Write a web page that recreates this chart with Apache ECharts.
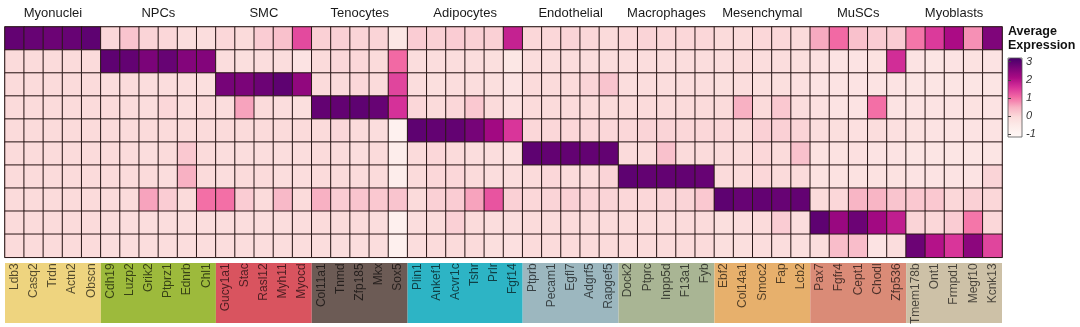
<!DOCTYPE html>
<html><head><meta charset="utf-8">
<script src="https://cdn.jsdelivr.net/npm/echarts@6/dist/echarts.min.js"></script>
<style>html,body{margin:0;padding:0;background:#fff}#c{width:1080px;height:327px}</style>
</head><body><div id="c"></div>
<script>
const groupNames = ['Myonuclei','NPCs','SMC','Tenocytes','Adipocytes','Endothelial','Macrophages','Mesenchymal','MuSCs','Myoblasts'];
const groupColors = ['#EED47F','#9DBA3C','#D9545F','#6C5B55','#2DB4C5','#9CB7BF','#A9B594','#E7B06C','#DA8B77','#CDC1A7'];
const groupGenes = [
  ['Ldb3','Casq2','Trdn','Actn2','Obscn'],
  ['Cdh19','Luzp2','Grik2','Ptprz1','Ednrb','Chl1'],
  ['Gucy1a1','Stac','Rasl12','Myh11','Myocd'],
  ['Col11a1','Tnmd','Zfp185','Mkx','Sox5'],
  ['Plin1','Ankef1','Acvr1c','Tshr','Prlr','Fgf14'],
  ['Ptprb','Pecam1','Egfl7','Adgrf5','Rapgef5'],
  ['Dock2','Ptprc','Inpp5d','F13a1','Fyb'],
  ['Ebf2','Col14a1','Smoc2','Fap','Lcb2'],
  ['Pax7','Fgfr4','Cept1','Chodl','Zfp536'],
  ['Tmem178b','Ont1','Frmpd1','Megf10','Kcnk13']
];
const legendTicks = [-1, 0, 1, 2, 3];
// rows = cell types (groupNames order), columns = genes in order
const exprMyonuclei = [2.9,2.85,2.8,2.85,2.95, 0.0,0.25,0.05,0.0,-0.1,-0.1, 0.0,-0.05,0.15,0.3,1.35, 0.1,0.1,0.05,0.05,-0.4, 0.15,0.1,0.15,0.1,0.1,1.8, 0.0,0.0,0.05,0.0,-0.05, 0.0,0.05,0.0,0.0,0.0, -0.05,-0.05,0.0,0.0,-0.05, 0.55,1.05,0.3,0.15,0.15, 0.95,1.5,2.1,0.75,2.6];
const exprNPCs = [-0.05,-0.05,-0.05,-0.05,-0.05, 2.95,2.9,2.65,2.85,2.55,2.55, -0.1,-0.15,-0.1,-0.1,-0.3, -0.05,0.0,0.0,-0.05,1.05, -0.1,-0.1,-0.1,-0.1,-0.15,-0.4, -0.1,-0.1,-0.1,-0.1,-0.1, -0.1,-0.1,-0.1,-0.1,-0.1, -0.1,-0.05,-0.1,-0.1,-0.15, -0.2,-0.3,-0.3,-0.25,1.65, -0.3,-0.35,-0.3,-0.25,-0.3];
const exprSMC = [-0.05,-0.05,-0.05,-0.05,-0.05, -0.1,-0.05,-0.1,-0.1,-0.1,-0.15, 2.7,2.65,2.8,2.95,2.4, -0.05,-0.05,0.0,-0.05,1.4, -0.1,-0.15,-0.1,-0.1,-0.15,-0.3, -0.05,-0.05,-0.05,0.05,0.25, -0.1,-0.1,-0.1,-0.1,-0.1, -0.15,-0.1,-0.15,-0.15,-0.2, -0.3,-0.3,-0.3,-0.3,-0.3, -0.35,-0.35,-0.35,-0.35,-0.35];
const exprTenocytes = [-0.05,-0.05,-0.05,-0.05,-0.05, -0.05,-0.05,-0.1,0.0,-0.1,-0.05, -0.1,0.6,-0.05,-0.1,-0.15, 2.9,2.9,2.95,2.85,1.6, 0.0,-0.05,0.0,0.2,-0.05,-0.2, -0.05,-0.05,-0.05,-0.05,-0.05, -0.05,-0.05,-0.05,-0.05,-0.05, -0.05,0.5,-0.05,0.2,-0.1, -0.2,-0.3,-0.3,1.0,-0.3, -0.3,-0.3,-0.3,-0.25,-0.3];
const exprAdipocytes = [-0.05,-0.05,-0.05,-0.05,-0.05, -0.05,-0.05,-0.05,-0.05,-0.05,-0.05, -0.05,-0.05,-0.05,-0.05,-0.05, -0.05,0.0,-0.05,-0.1,-0.8, 2.95,2.9,2.9,2.7,2.2,1.55, 0.0,0.0,0.0,0.0,0.0, 0.0,0.05,0.05,0.0,0.0, 0.0,-0.05,0.1,0.1,0.05, -0.1,-0.15,-0.2,-0.1,-0.2, -0.25,-0.3,-0.3,-0.3,-0.3];
const exprEndothelial = [-0.05,-0.05,-0.05,-0.05,-0.05, -0.05,-0.05,-0.1,-0.05,0.2,-0.05, -0.1,-0.1,-0.1,-0.1,-0.1, -0.05,-0.05,-0.1,-0.05,-0.6, -0.05,0.0,-0.05,-0.1,-0.1,-0.2, 2.95,2.9,2.9,2.9,2.9, -0.05,-0.05,0.3,-0.05,-0.05, -0.05,-0.05,0.0,-0.05,0.3, -0.25,-0.25,-0.2,-0.3,-0.3, -0.35,-0.35,-0.35,-0.35,-0.35];
const exprMacrophages = [-0.05,-0.05,-0.05,-0.05,-0.05, -0.05,-0.05,-0.05,-0.1,0.5,-0.05, -0.1,-0.05,-0.05,-0.1,-0.1, -0.05,-0.05,-0.05,-0.05,-0.6, -0.05,0.0,0.0,-0.05,-0.1,-0.1, -0.05,0.0,-0.05,-0.05,0.05, 2.95,2.9,2.9,2.9,2.85, -0.05,-0.05,0.0,-0.05,-0.05, -0.25,-0.25,-0.25,-0.25,-0.25, -0.3,-0.3,-0.3,-0.3,0.05];
const exprMesenchymal = [-0.05,-0.05,-0.05,-0.05,-0.05, -0.05,-0.05,0.6,0.15,-0.05,1.0, 1.0,0.15,-0.05,0.4,-0.05, 0.5,0.15,0.25,0.2,0.25, -0.05,0.1,0.15,0.6,1.25,0.1, 0.0,0.05,0.1,0.05,0.05, 0.0,0.0,0.05,0.05,0.2, 2.95,2.85,2.9,2.85,2.9, -0.05,0.0,0.45,0.45,0.25, 0.2,0.2,0.0,0.1,0.0];
const exprMuSCs = [-0.05,-0.05,-0.05,-0.05,-0.05, -0.1,-0.1,-0.1,-0.1,-0.1,-0.1, -0.1,-0.1,-0.1,-0.1,-0.1, -0.05,-0.05,-0.05,-0.1,-0.75, -0.1,-0.05,0.1,-0.05,-0.1,-0.1, -0.05,-0.05,-0.05,-0.05,-0.05, -0.05,-0.05,-0.05,-0.05,-0.05, -0.15,-0.1,-0.05,0.15,-0.1, 2.95,2.3,2.8,2.2,1.85, 0.05,0.0,0.15,0.95,0.0];
const exprMyoblasts = [-0.05,-0.05,-0.05,-0.05,-0.05, -0.1,-0.1,-0.1,-0.1,-0.1,-0.1, -0.1,-0.1,-0.1,-0.1,-0.1, -0.1,-0.1,-0.1,-0.1,-0.75, -0.1,-0.05,-0.05,-0.05,-0.15,-0.2, -0.05,-0.05,-0.05,-0.05,-0.05, -0.05,-0.05,-0.05,-0.05,-0.05, -0.15,-0.15,-0.1,-0.1,-0.15, -0.1,0.35,0.35,-0.3,-0.1, 2.8,2.0,1.55,2.45,1.4];
const exprRows = [exprMyonuclei, exprNPCs, exprSMC, exprTenocytes, exprAdipocytes, exprEndothelial, exprMacrophages, exprMesenchymal, exprMuSCs, exprMyoblasts];

// derived
const genes = [].concat(...groupGenes);
const groupSpans = [];
let idx = 0;
groupGenes.forEach((g) => { groupSpans.push([idx, idx + g.length - 1, 0]); idx += g.length; });
const heatData = [];
exprRows.forEach((row, r) => row.forEach((v, c) => heatData.push([c, r, v])));
const stripSpans = groupSpans.map(s => [s[0], s[1], 0]);

const FONT = "'Liberation Sans', Arial, sans-serif";
const chart = echarts.init(document.getElementById('c'));
chart.setOption({
  animation: false,
  textStyle: { fontFamily: FONT },
  title: {
    text: 'Average\nExpression', left: 1008, top: 25,
    textStyle: { fontFamily: FONT, fontSize: 12.5, fontWeight: 'bold', color: '#111', lineHeight: 14 },
    padding: 0
  },
  grid: [
    { left: 5, top: 27, width: 997, height: 233, show: true, borderColor: '#6b5c5c', borderWidth: 1.5, backgroundColor: 'transparent' },
    { left: 5, top: 263, width: 997, height: 60 },
    { left: 1008, top: 58, width: 14, height: 79, show: true, borderColor: '#555', borderWidth: 0.8, backgroundColor: 'transparent', z: 10 }
  ],
  xAxis: [
    { type: 'category', gridIndex: 0, data: genes, z: 10,
      axisLine: { show: false }, axisTick: { show: false }, splitLine: { show: false },
      axisLabel: { interval: 0, rotate: 90, margin: 6, fontSize: 12, color: 'rgba(0,0,0,0.65)', fontFamily: FONT } },
    { type: 'category', gridIndex: 1, data: genes, show: false },
    { type: 'value', gridIndex: 2, show: false, min: 0, max: 1 }
  ],
  yAxis: [
    { type: 'category', gridIndex: 0, data: groupNames, inverse: true, show: false },
    { type: 'value', gridIndex: 1, min: 0, max: 1, show: false },
    { type: 'value', gridIndex: 2, min: -1.15, max: 3.2, position: 'right', z: 10,
      axisLine: { show: false },
      axisTick: { show: true, inside: false, length: 3, lineStyle: { color: '#444' }, customValues: legendTicks },
      splitLine: { show: false },
      axisLabel: { show: true, margin: 4, fontSize: 11, fontStyle: 'italic', color: '#333', fontFamily: FONT,
        customValues: legendTicks } }
  ],
  visualMap: {
    type: 'continuous', seriesIndex: 0, min: -1.15, max: 3.2, calculable: false,
    left: 1008, top: 58, itemWidth: 14, itemHeight: 79, padding: 0, text: null, showLabel: false,
    inRange: { color: ['#FFF8F6','#FDEDEB','#FBDCDC','#F8B3C4','#F36CA5','#D8339A','#AA0A84','#7A0479','#46006A'] }
  },
  series: [
    { type: 'heatmap', xAxisIndex: 0, yAxisIndex: 0, data: heatData,
      itemStyle: { borderColor: '#2a1818', borderWidth: 1 }, emphasis: { disabled: true } },
    { type: 'custom', xAxisIndex: 1, yAxisIndex: 1, data: stripSpans, encode: { x: [0, 1], y: 2 }, silent: true,
      renderItem: function (params, api) {
        const a = api.coord([api.value(0), 1]);
        const b = api.coord([api.value(1), 0]);
        const w = api.size([1, 0])[0];
        return { type: 'rect', shape: { x: a[0] - w / 2, y: a[1], width: b[0] - a[0] + w, height: b[1] - a[1] },
          style: { fill: groupColors[params.dataIndex] } };
      } },
    { type: 'custom', xAxisIndex: 0, yAxisIndex: 0, data: groupSpans, encode: { x: [0, 1], y: 2 }, silent: true,
      renderItem: function (params, api) {
        const a = api.coord([api.value(0), api.value(2)]);
        const b = api.coord([api.value(1), api.value(2)]);
        const h = api.size([0, 1])[1];
        return { type: 'text', x: (a[0] + b[0]) / 2, y: a[1] - h / 2 - 14,
          style: { text: groupNames[params.dataIndex], textAlign: 'center', textVerticalAlign: 'middle',
            fontSize: 13, fill: '#1a1a1a', fontFamily: FONT } };
      } }
  ]
});
</script></body></html>
